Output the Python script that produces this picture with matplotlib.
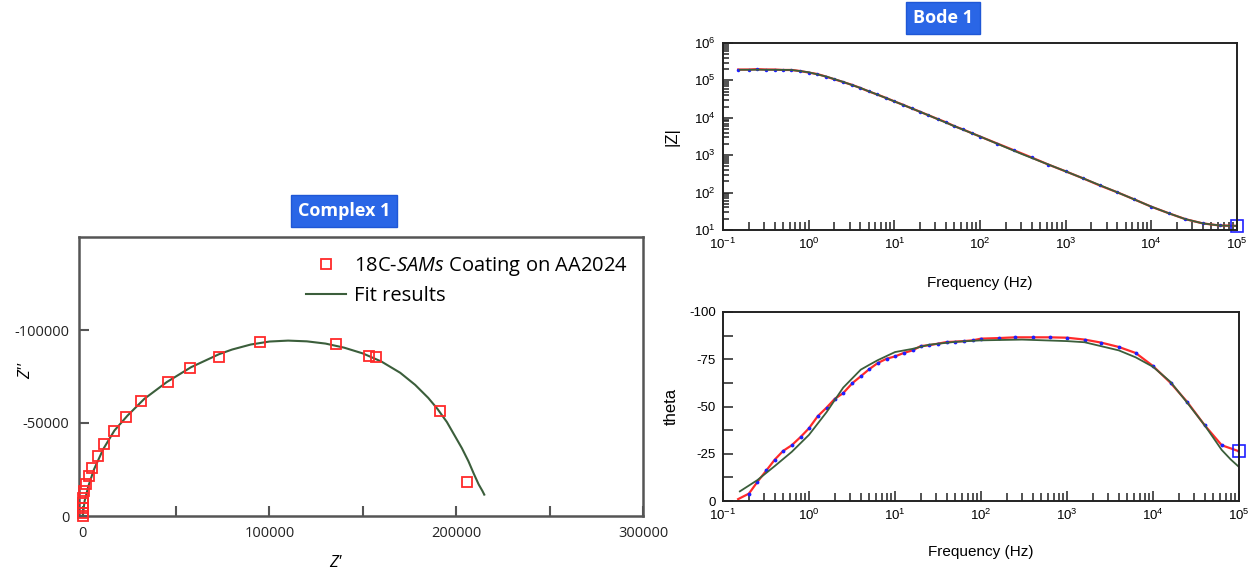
import numpy as np
import matplotlib
matplotlib.use("Agg")
import matplotlib.pyplot as plt
from matplotlib.ticker import LogLocator, FixedLocator, NullFormatter

# Nyquist data (Z', -Z'')
nyq_zre = [0, 0, 0, 0, 200, 700, 1800, 3500, 5100, 8100, 11500, 16600, 23000,
           31300, 45900, 57600, 73000, 95000, 135500, 153200, 157100, 191200, 205500]
nyq_zim = [0, -1800, -4500, -7100, -9800, -13400, -17300, -21250, -25900, -32100,
           -38900, -45900, -53400, -62000, -72100, -79500, -85400, -93700, -92300,
           -86200, -85400, -56250, -18200]

fit_zre = [0, 1000, 3000, 6000, 11000, 17000, 24000, 33000, 45000, 58000, 73000,
           80000, 90000, 100000, 110000, 120000, 130000, 140000, 150000, 160000,
           170000, 178000, 185000, 190000, 195000, 199000, 203000, 206500, 209500,
           212000, 214000, 215000]
fit_zim = [0, -8000, -16000, -25000, -36000, -46000, -54000, -63000, -72000, -80000,
           -87000, -89500, -92200, -93800, -94300, -93900, -92700, -90500, -87400,
           -83000, -77000, -70500, -63500, -57500, -50500, -43500, -36500, -29500,
           -22500, -17000, -13500, -11500]

# Bode data
freq = [0.15, 0.2, 0.25, 0.32, 0.4, 0.5, 0.63, 0.8, 1.0, 1.26, 1.6, 2.0, 2.5, 3.2,
        4.0, 5.0, 6.3, 8.0, 10, 12.6, 16, 20, 25, 32, 40, 50, 63, 80, 100, 160, 250,
        400, 630, 1000, 1600, 2500, 4000, 6300, 1e4, 1.6e4, 2.5e4, 4e4, 6.3e4, 1e5]
zmod = [195000, 195000, 200000, 195000, 195000, 190000, 190000, 178000, 162000,
        148000, 126000, 107000, 91000, 76000, 63000, 51000, 42000, 34000, 27500,
        22400, 17800, 14500, 11700, 9300, 7600, 6000, 4900, 3900, 3160, 2040, 1350,
        870, 560, 370, 240, 155, 102, 66, 42, 28, 19.5, 15, 13.2, 12.9]
phase = [-1.0, -3.9, -10, -16.2, -21.9, -26.5, -29.5, -33.9, -38.5, -44.8, -49.4,
         -54.1, -57.1, -62.4, -66, -69.7, -73, -75.3, -76.5, -78.3, -79.7, -82,
         -82.4, -83.3, -84.1, -84.3, -84.6, -85, -85.9, -86.2, -86.6, -86.6, -86.6,
         -86.4, -85.4, -83.8, -81.5, -78.3, -71.4, -62.5, -52.4, -40, -29.5, -26.3]

fit_freq = [0.157, 0.25, 0.4, 0.63, 1.0, 1.6, 2.5, 4.0, 5.0, 6.3, 10, 16, 25, 50,
            100, 300, 1000, 1600, 4000, 6300, 1e4, 1.6e4, 2.5e4, 4e4, 6.3e4, 8e4, 1e5]
fit_zmod = [192000, 193000, 192000, 190000, 165000, 127000, 92000, 63000, 51500,
            42000, 27500, 17800, 11700, 6000, 3160, 1100, 370, 240, 102, 66, 42,
            28, 19.5, 15, 13.2, 13, 12.9]
fit_phase = [-5.1, -11, -18.5, -26, -35, -47, -60, -69.5, -72, -74.5, -78.8, -80.5,
             -82.7, -84.2, -85, -85.4, -84.6, -84, -79.7, -76, -71, -63, -52, -40,
             -27, -22, -18]

red = "#ff2a2a"
blue = "#1f1fff"
green = "#3b5e3b"

plt.rcParams["mathtext.fontset"] = "custom"
plt.rcParams["mathtext.it"] = "Open Sans:italic"

fig = plt.figure(figsize=(12.56, 5.69), dpi=100)

# ---- Nyquist ----
ax1 = fig.add_axes([79 / 1256, 1 - 516 / 569, 564 / 1256, 279 / 569])
ax1.plot(nyq_zre, nyq_zim, "s", mfc="none", mec=red, ms=7.5, mew=1.3,
         clip_on=False, label="18C-$\\it{SAMs}$ Coating on AA2024", zorder=3)
ax1.plot(fit_zre, fit_zim, "-", color=green, lw=1.5, label="Fit results")
ax1.set_xlim(-2000, 300000)
ax1.set_ylim(0, -150000)
ax1.xaxis.set_major_locator(FixedLocator([0, 100000, 200000, 300000]))
ax1.xaxis.set_minor_locator(FixedLocator([50000, 150000, 250000]))
ax1.yaxis.set_major_locator(FixedLocator([0, -50000, -100000]))
ax1.set_xticklabels(["0", "100000", "200000", "300000"])
ax1.set_yticklabels(["0", "-50000", "-100000"])
for s in ax1.spines.values():
    s.set_color("#555555")
    s.set_linewidth(1.8)
ax1.tick_params(which="both", direction="in", length=7, width=1.5, color="#555555",
                top=False, right=False, labelsize=10.5, labelcolor="#222222", pad=7)
for lab in ax1.get_xticklabels() + ax1.get_yticklabels():
    lab.set_family("Open Sans")
ax1.set_xlabel("Z'", fontsize=12, family="Open Sans", style="italic")
ax1.xaxis.set_label_coords(0.454, -0.14)
ax1.set_ylabel("Z''", fontsize=12, family="Open Sans", style="italic")
ax1.yaxis.set_label_coords(-0.08, 0.52)
leg = ax1.legend(loc="upper left", bbox_to_anchor=(0.37, 1.0), frameon=False,
                 prop={"family": "Open Sans", "size": 14.5}, handlelength=2.0,
                 labelspacing=0.4, handletextpad=0.4)

# ---- Bode |Z| ----
ax2 = fig.add_axes([723 / 1256, 1 - 230 / 569, 514 / 1256, 187 / 569])
ax2.plot(freq, zmod, "-", color=red, lw=1.6)
ax2.plot(freq, zmod, ".", color=blue, ms=3)
ax2.plot(fit_freq, fit_zmod, "-", color=green, lw=1.3)
ax2.plot(freq[-1], zmod[-1], "s", mfc="none", mec=blue, ms=8, mew=1.2, clip_on=False)
ax2.set_xscale("log")
ax2.set_yscale("log")
ax2.set_xlim(0.1, 1e5)
ax2.set_ylim(10, 1e6)
ax2.set_xlabel("Frequency (Hz)", fontsize=11, family="Liberation Sans")
ax2.xaxis.set_label_coords(0.5, -0.245)
ax2.set_ylabel("|Z|", fontsize=12, family="Liberation Sans")
ax2.yaxis.set_label_coords(-0.085, 0.5)

# ---- Bode phase ----
ax3 = fig.add_axes([723 / 1256, 1 - 501 / 569, 516 / 1256, 189 / 569])
ax3.plot(freq, phase, "-", color=red, lw=1.6)
ax3.plot(freq[1:], phase[1:], ".", color=blue, ms=3.5)
ax3.plot(fit_freq, fit_phase, "-", color=green, lw=1.3)
ax3.plot(freq[-1], phase[-1], "s", mfc="none", mec=blue, ms=8, mew=1.2, clip_on=False)
ax3.set_xscale("log")
ax3.set_xlim(0.1, 1e5)
ax3.set_ylim(0, -100)
ax3.yaxis.set_major_locator(FixedLocator([0, -25, -50, -75, -100]))
ax3.yaxis.set_minor_locator(FixedLocator([-12.5, -37.5, -62.5, -87.5]))
ax3.set_yticklabels(["0", "-25", "-50", "-75", "-100"])
ax3.set_xlabel("Frequency (Hz)", fontsize=11, family="Liberation Sans")
ax3.xaxis.set_label_coords(0.5, -0.233)
ax3.set_ylabel("theta", fontsize=12, family="Liberation Sans")
ax3.yaxis.set_label_coords(-0.085, 0.5)

for ax in (ax2, ax3):
    ax.xaxis.set_major_locator(LogLocator(base=10, numticks=10))
    ax.xaxis.set_minor_locator(LogLocator(base=10, subs=np.arange(2, 10), numticks=20))
    ax.xaxis.set_minor_formatter(NullFormatter())
    for s in ax.spines.values():
        s.set_linewidth(1.4)
        s.set_color("#222222")
    ax.tick_params(which="both", direction="in", top=False, right=False,
                   labelsize=9.5, width=1.1, color="#222222", pad=5)
    ax.tick_params(which="major", length=7)
    ax.tick_params(which="minor", length=6)
    for lab in ax.get_xticklabels() + ax.get_yticklabels():
        lab.set_family("Liberation Sans")
ax2.yaxis.set_minor_locator(LogLocator(base=10, subs=np.arange(2, 10), numticks=20))
ax2.yaxis.set_minor_formatter(NullFormatter())
ax2.tick_params(axis="y", which="minor", length=4)
ax3.tick_params(axis="y", which="both", length=7)

# title boxes
box = dict(boxstyle="square,pad=0.4", facecolor="#2a66e6", edgecolor="#1f57d6")
fig.text(344 / 1256, 1 - 211 / 569, "Complex 1", color="white", fontsize=13,
         fontweight="bold", family="Open Sans", ha="center", va="center", bbox=box)
fig.text(943 / 1256, 1 - 18 / 569, "Bode 1", color="white", fontsize=13,
         fontweight="bold", family="Open Sans", ha="center", va="center", bbox=box)

fig.savefig("out.png", dpi=100, facecolor="white")
